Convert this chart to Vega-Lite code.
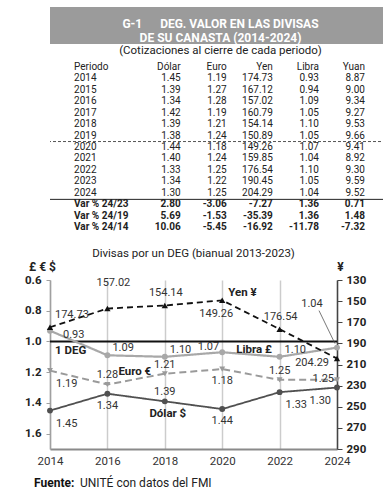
{
  "$schema": "https://vega.github.io/schema/vega-lite/v6.json",
  "padding": {"left": 24, "top": 7, "right": 4, "bottom": 4},
  "background": "white",
  "datasets": {
    "tabla": [
      {"Periodo": "2014", "Dólar": 1.45, "Euro": 1.19, "Yen": 174.73, "Libra": 0.93, "Yuan": 8.87},
      {"Periodo": "2015", "Dólar": 1.39, "Euro": 1.27, "Yen": 167.12, "Libra": 0.94, "Yuan": 9.00},
      {"Periodo": "2016", "Dólar": 1.34, "Euro": 1.28, "Yen": 157.02, "Libra": 1.09, "Yuan": 9.34},
      {"Periodo": "2017", "Dólar": 1.42, "Euro": 1.19, "Yen": 160.79, "Libra": 1.05, "Yuan": 9.27},
      {"Periodo": "2018", "Dólar": 1.39, "Euro": 1.21, "Yen": 154.14, "Libra": 1.10, "Yuan": 9.53},
      {"Periodo": "2019", "Dólar": 1.38, "Euro": 1.24, "Yen": 150.89, "Libra": 1.05, "Yuan": 9.66},
      {"Periodo": "2020", "Dólar": 1.44, "Euro": 1.18, "Yen": 149.26, "Libra": 1.07, "Yuan": 9.41},
      {"Periodo": "2021", "Dólar": 1.40, "Euro": 1.24, "Yen": 159.85, "Libra": 1.04, "Yuan": 8.92},
      {"Periodo": "2022", "Dólar": 1.33, "Euro": 1.25, "Yen": 176.54, "Libra": 1.10, "Yuan": 9.30},
      {"Periodo": "2023", "Dólar": 1.34, "Euro": 1.22, "Yen": 190.45, "Libra": 1.05, "Yuan": 9.59},
      {"Periodo": "2024", "Dólar": 1.30, "Euro": 1.25, "Yen": 204.29, "Libra": 1.04, "Yuan": 9.52},
      {"Periodo": "Var % 24/23", "Dólar": 2.80, "Euro": -3.06, "Yen": -7.27, "Libra": 1.36, "Yuan": 0.71},
      {"Periodo": "Var % 24/19", "Dólar": 5.69, "Euro": -1.53, "Yen": -35.39, "Libra": 1.36, "Yuan": 1.48},
      {"Periodo": "Var % 24/14", "Dólar": 10.06, "Euro": -5.45, "Yen": -16.92, "Libra": -11.78, "Yuan": -7.32}
    ]
  },
  "columns": 1,
  "align": "none",
  "spacing": 0,
  "concat": [
    {
      "width": 341,
      "height": 37,
      "view": {"fill": "#9b9b9b", "stroke": null},
      "data": {"values": [{}]},
      "mark": {"type": "text", "text": "G-1\u00a0\u00a0\u00a0\u00a0\u00a0\u00a0DEG. VALOR EN LAS DIVISAS\nDE SU CANASTA (2014-2024)", "lineBreak": "\n", "lineHeight": 14, "align": "center", "baseline": "middle", "color": "white", "fontSize": 12, "fontWeight": "bold", "dy": -2}
    },
    {
      "width": 341,
      "height": 193,
      "title": {"text": "(Cotizaciones al cierre de cada periodo)", "fontSize": 11.5, "fontWeight": "normal", "offset": 1, "dy": 3, "color": "#222"},
      "data": {"name": "tabla"},
      "layer": [
        {
          "transform": [{"filter": "indexof(datum.Periodo, 'Var') < 0"}],
          "mark": {"type": "text", "align": "left", "baseline": "middle", "dx": -60.5, "fontSize": 10, "color": "#222"},
          "encoding": {
            "x": {"datum": "Periodo", "type": "nominal", "scale": {"type": "point", "domain": ["Periodo", "Dólar", "Euro", "Yen", "Libra", "Yuan"], "range": [61.5, 338]}, "axis": null},
            "y": {"field": "Periodo", "type": "nominal", "scale": {"type": "point", "domain": ["Periodo", "2014", "2015", "2016", "2017", "2018", "2019", "2020", "2021", "2022", "2023", "2024", "Var % 24/23", "Var % 24/19", "Var % 24/14"], "range": [7, 179]}, "axis": null},
            "text": {"field": "Periodo"}
          }
        },
        {
          "transform": [{"filter": "indexof(datum.Periodo, 'Var') >= 0"}],
          "mark": {"type": "text", "align": "left", "baseline": "middle", "dx": -60.5, "fontSize": 10, "fontWeight": "bold", "color": "#222"},
          "encoding": {
            "x": {"datum": "Periodo", "type": "nominal"},
            "y": {"field": "Periodo", "type": "nominal"},
            "text": {"field": "Periodo"}
          }
        },
        {
          "data": {"values": [{}]},
          "mark": {"type": "text", "align": "left", "baseline": "middle", "dx": -60.5, "fontSize": 10, "color": "#222"},
          "encoding": {
            "x": {"datum": "Periodo", "type": "nominal"},
            "y": {"datum": "Periodo", "type": "nominal"},
            "text": {"value": "Periodo"}
          }
        },
        {
          "transform": [{"fold": ["Dólar", "Euro", "Yen", "Libra", "Yuan"], "as": ["col", "valor"]}, {"filter": "datum.Periodo === '2014'"}],
          "mark": {"type": "text", "align": "right", "baseline": "middle", "fontSize": 10, "color": "#222"},
          "encoding": {
            "x": {"field": "col", "type": "nominal"},
            "y": {"datum": "Periodo", "type": "nominal"},
            "text": {"field": "col"}
          }
        },
        {
          "transform": [{"fold": ["Dólar", "Euro", "Yen", "Libra", "Yuan"], "as": ["col", "valor"]}, {"filter": "indexof(datum.Periodo, 'Var') < 0"}],
          "mark": {"type": "text", "align": "right", "baseline": "middle", "fontSize": 10, "color": "#222"},
          "encoding": {
            "x": {"field": "col", "type": "nominal"},
            "y": {"field": "Periodo", "type": "nominal"},
            "text": {"field": "valor", "type": "quantitative", "format": ".2f"}
          }
        },
        {
          "transform": [{"fold": ["Dólar", "Euro", "Yen", "Libra", "Yuan"], "as": ["col", "valor"]}, {"filter": "indexof(datum.Periodo, 'Var') >= 0"}],
          "mark": {"type": "text", "align": "right", "baseline": "middle", "fontSize": 10, "fontWeight": "bold", "color": "#222"},
          "encoding": {
            "x": {"field": "col", "type": "nominal"},
            "y": {"field": "Periodo", "type": "nominal"},
            "text": {"field": "valor", "type": "quantitative", "format": ".2f"}
          }
        },
        {
          "data": {"values": [{}]},
          "mark": {"type": "rule", "yOffset": 6, "strokeDash": [3, 2], "color": "#555", "strokeWidth": 1},
          "encoding": {"y": {"datum": "2019", "type": "nominal"}}
        },
        {
          "data": {"values": [{}]},
          "mark": {"type": "rule", "yOffset": 6.5, "color": "#222", "strokeWidth": 1},
          "encoding": {"y": {"datum": "2024", "type": "nominal"}}
        }
      ]
    },
    {
      "width": 287,
      "height": 169,
      "title": {"text": "Divisas por un DEG (bianual 2013-2023)", "fontSize": 11.5, "fontWeight": "normal", "offset": 1, "color": "#222"},
      "data": {"name": "tabla"},
      "transform": [{"filter": "indexof(['2014','2016','2018','2020','2022','2024'], datum.Periodo) >= 0"}],
      "layer": [
        {
          "transform": [{"fold": ["Dólar", "Euro", "Libra"], "as": ["serie", "valor"]}],
          "layer": [
            {
              "data": {"values": [{}]},
              "mark": {"type": "rule", "color": "#111", "strokeWidth": 2},
              "encoding": {
                "y": {"datum": 1.0, "type": "quantitative", "scale": {"domain": [0.6, 1.7], "reverse": true, "nice": false, "zero": false}}
              }
            },
            {
              "mark": {"type": "line"},
              "encoding": {
                "x": {"field": "Periodo", "type": "ordinal", "scale": {"type": "point", "padding": 0, "domain": ["2014", "2016", "2018", "2020", "2022", "2024"]},
                  "axis": {"title": null, "grid": true, "gridColor": "#cccccc", "gridWidth": 1.5, "ticks": false, "domainColor": "#8a8a8a", "domainWidth": 2, "labelFontSize": 11.5, "labelPadding": 6, "labelColor": "#333", "labelAngle": 0, "labelOverlap": false}},
                "y": {"field": "valor", "type": "quantitative", "scale": {"domain": [0.6, 1.7], "reverse": true, "nice": false, "zero": false},
                  "axis": {"orient": "left", "values": [0.6, 0.8, 1.0, 1.2, 1.4, 1.6], "tickCount": 20, "format": ".1f", "grid": false, "domainColor": "#a0a0a0", "domainWidth": 1.5, "tickColor": "#a0a0a0", "tickSize": 4, "labelPadding": 5, "labelFontSize": 11.5, "labelFontWeight": "bold", "labelColor": "#222", "labelOverlap": false, "labelFlush": false, "title": "£ € $", "titleAngle": 0, "titleAlign": "center", "titleBaseline": "middle", "titleX": -8, "titleY": -14, "titleFontSize": 12, "titleFontWeight": "bold", "titleColor": "#222"}},
                "color": {"field": "serie", "type": "nominal", "scale": {"domain": ["Dólar", "Euro", "Libra"], "range": ["#505050", "#9a9a9a", "#a8a8a8"]}, "legend": null},
                "strokeDash": {"field": "serie", "type": "nominal", "scale": {"domain": ["Dólar", "Euro", "Libra"], "range": [[1, 0], [7, 4], [1, 0]]}, "legend": null},
                "strokeWidth": {"field": "serie", "type": "nominal", "scale": {"domain": ["Dólar", "Euro", "Libra"], "range": [1.8, 2.2, 2.5]}, "legend": null}
              }
            },
            {
              "mark": {"type": "point", "filled": true, "opacity": 1, "size": 35},
              "encoding": {
                "x": {"field": "Periodo", "type": "ordinal"},
                "y": {"field": "valor", "type": "quantitative"},
                "color": {"field": "serie", "type": "nominal", "legend": null},
                "shape": {"field": "serie", "type": "nominal", "scale": {"domain": ["Dólar", "Euro", "Libra"], "range": ["circle", "triangle-down", "circle"]}, "legend": null}
              }
            },
            {
              "transform": [{"filter": "indexof(['Dólar|2016','Dólar|2020','Euro|2020'], datum.serie + '|' + datum.Periodo) >= 0"}],
              "mark": {"type": "text", "align": "center", "baseline": "middle", "dy": 12, "fontSize": 11, "color": "#333"},
              "encoding": {"x": {"field": "Periodo", "type": "ordinal"}, "y": {"field": "valor", "type": "quantitative"}, "text": {"field": "valor", "type": "quantitative", "format": ".2f"}}
            },
            {
              "transform": [{"filter": "indexof(['Dólar|2018','Euro|2016','Euro|2018','Euro|2022'], datum.serie + '|' + datum.Periodo) >= 0"}],
              "mark": {"type": "text", "align": "center", "baseline": "middle", "dy": -9, "fontSize": 11, "color": "#333"},
              "encoding": {"x": {"field": "Periodo", "type": "ordinal"}, "y": {"field": "valor", "type": "quantitative"}, "text": {"field": "valor", "type": "quantitative", "format": ".2f"}}
            },
            {
              "transform": [{"filter": "indexof(['Dólar|2014','Dólar|2022','Euro|2014'], datum.serie + '|' + datum.Periodo) >= 0"}],
              "mark": {"type": "text", "align": "left", "baseline": "middle", "dx": 6, "dy": 13, "fontSize": 11, "color": "#333"},
              "encoding": {"x": {"field": "Periodo", "type": "ordinal"}, "y": {"field": "valor", "type": "quantitative"}, "text": {"field": "valor", "type": "quantitative", "format": ".2f"}}
            },
            {
              "transform": [{"filter": "indexof(['Dólar|2024'], datum.serie + '|' + datum.Periodo) >= 0"}],
              "mark": {"type": "text", "align": "right", "baseline": "middle", "dx": -6, "dy": 13, "fontSize": 11, "color": "#333"},
              "encoding": {"x": {"field": "Periodo", "type": "ordinal"}, "y": {"field": "valor", "type": "quantitative"}, "text": {"field": "valor", "type": "quantitative", "format": ".2f"}}
            },
            {
              "transform": [{"filter": "indexof(['Euro|2024'], datum.serie + '|' + datum.Periodo) >= 0"}],
              "mark": {"type": "text", "align": "right", "baseline": "middle", "dx": -3, "dy": -1, "fontSize": 11, "color": "#333"},
              "encoding": {"x": {"field": "Periodo", "type": "ordinal"}, "y": {"field": "valor", "type": "quantitative"}, "text": {"field": "valor", "type": "quantitative", "format": ".2f"}}
            },
            {
              "transform": [{"filter": "indexof(['Libra|2020'], datum.serie + '|' + datum.Periodo) >= 0"}],
              "mark": {"type": "text", "align": "right", "baseline": "middle", "dx": -3, "dy": -5, "fontSize": 11, "color": "#333"},
              "encoding": {"x": {"field": "Periodo", "type": "ordinal"}, "y": {"field": "valor", "type": "quantitative"}, "text": {"field": "valor", "type": "quantitative", "format": ".2f"}}
            },
            {
              "transform": [{"filter": "indexof(['Libra|2016','Libra|2018','Libra|2022'], datum.serie + '|' + datum.Periodo) >= 0"}],
              "mark": {"type": "text", "align": "left", "baseline": "middle", "dx": 5, "dy": -7, "fontSize": 11, "color": "#333"},
              "encoding": {"x": {"field": "Periodo", "type": "ordinal"}, "y": {"field": "valor", "type": "quantitative"}, "text": {"field": "valor", "type": "quantitative", "format": ".2f"}}
            },
            {
              "transform": [{"filter": "indexof(['Libra|2014'], datum.serie + '|' + datum.Periodo) >= 0"}],
              "mark": {"type": "text", "align": "left", "baseline": "middle", "dx": 13, "dy": 4, "fontSize": 11, "color": "#333"},
              "encoding": {"x": {"field": "Periodo", "type": "ordinal"}, "y": {"field": "valor", "type": "quantitative"}, "text": {"field": "valor", "type": "quantitative", "format": ".2f"}}
            },
            {
              "transform": [{"filter": "indexof(['Libra|2024'], datum.serie + '|' + datum.Periodo) >= 0"}],
              "mark": {"type": "text", "align": "center", "baseline": "middle", "dx": -25, "dy": -44, "fontSize": 11, "color": "#333"},
              "encoding": {"x": {"field": "Periodo", "type": "ordinal"}, "y": {"field": "valor", "type": "quantitative"}, "text": {"field": "valor", "type": "quantitative", "format": ".2f"}}
            },
            {
              "transform": [{"filter": "indexof(['Libra|2024'], datum.serie + '|' + datum.Periodo) >= 0"}],
              "mark": {"type": "rule", "color": "#555", "strokeWidth": 0.8, "xOffset": -2, "yOffset": -4, "x2Offset": -18, "y2Offset": -37},
              "encoding": {"x": {"field": "Periodo", "type": "ordinal"}, "y": {"field": "valor", "type": "quantitative"}, "x2": {"field": "Periodo"}, "y2": {"field": "valor"}}
            },
            {
              "data": {"values": [{}]},
              "mark": {"type": "text", "align": "left", "baseline": "middle", "dx": 5, "dy": 10, "fontSize": 11.5, "fontWeight": "bold", "color": "#222", "text": "1 DEG"},
              "encoding": {"x": {"datum": "2014", "type": "ordinal"}, "y": {"datum": 1.0, "type": "quantitative"}}
            },
            {
              "data": {"values": [{}]},
              "mark": {"type": "text", "align": "left", "baseline": "middle", "dx": 14, "fontSize": 11.5, "fontWeight": "bold", "color": "#222", "text": "Libra £"},
              "encoding": {"x": {"datum": "2020", "type": "ordinal"}, "y": {"datum": 1.056, "type": "quantitative"}}
            },
            {
              "data": {"values": [{}]},
              "mark": {"type": "text", "align": "left", "baseline": "middle", "dx": 11, "fontSize": 11.5, "fontWeight": "bold", "color": "#222", "text": "Euro €"},
              "encoding": {"x": {"datum": "2016", "type": "ordinal"}, "y": {"datum": 1.2, "type": "quantitative"}}
            },
            {
              "data": {"values": [{}]},
              "mark": {"type": "text", "align": "center", "baseline": "middle", "dx": 3, "fontSize": 11.5, "fontWeight": "bold", "color": "#222", "text": "Dólar $"},
              "encoding": {"x": {"datum": "2018", "type": "ordinal"}, "y": {"datum": 1.47, "type": "quantitative"}}
            },
            {
              "data": {"values": [{}]},
              "mark": {"type": "text", "align": "left", "baseline": "middle", "dx": -16, "fontSize": 12, "fontWeight": "bold", "color": "#111", "text": "Fuente:"},
              "encoding": {"x": {"datum": "2014", "type": "ordinal"}, "y": {"datum": 1.92, "type": "quantitative"}}
            },
            {
              "data": {"values": [{}]},
              "mark": {"type": "text", "align": "left", "baseline": "middle", "dx": 30, "fontSize": 12, "color": "#222", "text": "UNITÉ con datos del FMI"},
              "encoding": {"x": {"datum": "2014", "type": "ordinal"}, "y": {"datum": 1.92, "type": "quantitative"}}
            }
          ]
        },
        {
          "layer": [
            {
              "mark": {"type": "line", "color": "#111", "strokeWidth": 1.8, "strokeDash": [6, 4]},
              "encoding": {
                "x": {"field": "Periodo", "type": "ordinal"},
                "y": {"field": "Yen", "type": "quantitative", "scale": {"domain": [130, 290], "reverse": true, "nice": false, "zero": false},
                  "axis": {"orient": "right", "values": [130, 150, 170, 190, 210, 230, 250, 270, 290], "tickCount": 20, "grid": false, "domainColor": "#444", "domainWidth": 1.5, "tickColor": "#444", "tickSize": 5, "labelPadding": 4, "labelFontSize": 11.5, "labelFontWeight": "bold", "labelColor": "#222", "labelOverlap": false, "labelFlush": false, "title": "¥", "titleAngle": 0, "titleAlign": "center", "titleBaseline": "middle", "titleX": 3, "titleY": -14, "titleFontSize": 12, "titleFontWeight": "bold", "titleColor": "#222"}}
              }
            },
            {
              "mark": {"type": "point", "shape": "triangle-up", "filled": true, "opacity": 1, "color": "#111", "size": 40},
              "encoding": {"x": {"field": "Periodo", "type": "ordinal"}, "y": {"field": "Yen", "type": "quantitative"}}
            },
            {
              "transform": [{"filter": "datum.Periodo === '2014'"}],
              "mark": {"type": "text", "align": "left", "baseline": "middle", "dx": 5, "dy": -12, "fontSize": 11, "color": "#333"},
              "encoding": {"x": {"field": "Periodo", "type": "ordinal"}, "y": {"field": "Yen", "type": "quantitative"}, "text": {"field": "Yen", "type": "quantitative", "format": ".2f"}}
            },
            {
              "transform": [{"filter": "datum.Periodo === '2016'"}],
              "mark": {"type": "text", "align": "center", "baseline": "middle", "dx": 6, "dy": -26, "fontSize": 11, "color": "#333"},
              "encoding": {"x": {"field": "Periodo", "type": "ordinal"}, "y": {"field": "Yen", "type": "quantitative"}, "text": {"field": "Yen", "type": "quantitative", "format": ".2f"}}
            },
            {
              "transform": [{"filter": "datum.Periodo === '2018' || datum.Periodo === '2022'"}],
              "mark": {"type": "text", "align": "center", "baseline": "middle", "dx": 1, "dy": -12, "fontSize": 11, "color": "#333"},
              "encoding": {"x": {"field": "Periodo", "type": "ordinal"}, "y": {"field": "Yen", "type": "quantitative"}, "text": {"field": "Yen", "type": "quantitative", "format": ".2f"}}
            },
            {
              "transform": [{"filter": "datum.Periodo === '2020'"}],
              "mark": {"type": "text", "align": "center", "baseline": "middle", "dx": -6, "dy": 14, "fontSize": 11, "color": "#333"},
              "encoding": {"x": {"field": "Periodo", "type": "ordinal"}, "y": {"field": "Yen", "type": "quantitative"}, "text": {"field": "Yen", "type": "quantitative", "format": ".2f"}}
            },
            {
              "transform": [{"filter": "datum.Periodo === '2024'"}],
              "mark": {"type": "text", "align": "right", "baseline": "middle", "dx": -8, "dy": 5, "fontSize": 11, "color": "#333"},
              "encoding": {"x": {"field": "Periodo", "type": "ordinal"}, "y": {"field": "Yen", "type": "quantitative"}, "text": {"field": "Yen", "type": "quantitative", "format": ".2f"}}
            },
            {
              "data": {"values": [{}]},
              "mark": {"type": "text", "align": "left", "baseline": "middle", "dx": 6, "fontSize": 11.5, "fontWeight": "bold", "color": "#222", "text": "Yen  ¥"},
              "encoding": {"x": {"datum": "2020", "type": "ordinal"}, "y": {"datum": 142.3, "type": "quantitative"}}
            }
          ]
        }
      ],
      "resolve": {"scale": {"y": "independent"}}
    }
  ],
  "config": {
    "font": "Roboto",
    "view": {"stroke": null},
    "locale": {"number": {"decimal": ".", "thousands": ",", "grouping": [3], "currency": ["$", ""], "minus": "-"}},
    "axis": {"labelFont": "Roboto", "titleFont": "Roboto", "labelOverlap": false},
    "title": {"font": "Roboto"},
    "text": {"font": "Roboto"}
  }
}
